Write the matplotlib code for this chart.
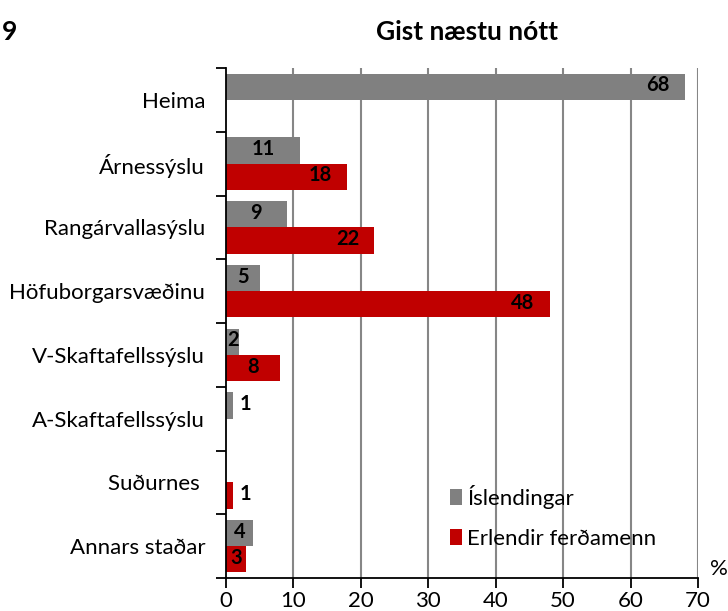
"""Gist næstu nótt — horizontal grouped bar chart."""

import matplotlib

matplotlib.use("Agg")
import matplotlib.pyplot as plt
import numpy as np

plt.rcParams["font.family"] = ["Lato", "DejaVu Sans"]

CATEGORIES = ["Heima", "Árnessýslu", "Rangárvallasýslu", "Höfuborgarsvæðinu",
              "V-Skaftafellssýslu", "A-Skaftafellssýslu", "Suðurnes ",
              "Annars staðar"]
ISLENDINGAR = [68, 11, 9, 5, 2, 1, np.nan, 4]
ERLENDIR = [np.nan, 18, 22, 48, 8, np.nan, 1, 3]
SERIES = ["Íslendingar", "Erlendir ferðamenn"]
XTICKS = [0, 10, 20, 30, 40, 50, 60, 70]

GREY = "#808080"
RED = "#C00000"


def label_bars(ax, ys, vals):
    for y, v in zip(ys, vals):
        if np.isnan(v):
            continue
        kw = dict(va="center", fontsize=14.5, fontweight="bold",
                  textcoords="offset points")
        if v < 2:
            ax.annotate(f"{v:g}", (v, y), xytext=(5, 1), ha="left", **kw)
        elif v <= 11:
            ax.annotate(f"{v:g}", (v / 2, y), xytext=(0, 1), ha="center", **kw)
        else:
            ax.annotate(f"{v:g}", (v, y), xytext=(-11, 1), ha="right", **kw)


fig = plt.figure(figsize=(7.28, 6.11), dpi=100)
ax = fig.add_axes([0.3104, 0.054, 0.6484, 0.8347])

pos = np.arange(len(CATEGORIES))
h = 0.41
ax.barh(pos - h / 2, ISLENDINGAR, height=h, color=GREY, label=SERIES[0], zorder=2)
ax.barh(pos + h / 2, ERLENDIR, height=h, color=RED, label=SERIES[1], zorder=2)
label_bars(ax, pos - h / 2, ISLENDINGAR)
label_bars(ax, pos + h / 2, ERLENDIR)

ax.set_xlim(0, 70)
ax.set_ylim(len(CATEGORIES) - 0.5, -0.5)
ax.set_xticks(XTICKS)
ax.set_xticklabels([str(t) for t in XTICKS], fontsize=16)
ax.set_yticks(np.arange(len(CATEGORIES) + 1) - 0.5, minor=False)
ax.set_yticklabels([])
ax.set_yticks(pos, minor=True)
ax.set_yticklabels(CATEGORIES, minor=True, fontsize=16)
ax.tick_params(axis="y", which="minor", length=0, pad=15)
ax.tick_params(axis="y", which="major", length=7, width=1.3, direction="out")
ax.tick_params(axis="x", length=7, width=1.3, direction="out", pad=2)

for t in XTICKS[1:]:
    ax.axvline(t, color="#868686", lw=1.5, zorder=1)
for side in ["top", "right"]:
    ax.spines[side].set_visible(False)
for side in ["left", "bottom"]:
    ax.spines[side].set_linewidth(1.3)
    ax.spines[side].set_zorder(3)

ax.legend(loc="lower left", bbox_to_anchor=(0.455, 0.04), frameon=False,
          fontsize=16, handlelength=0.55, handleheight=0.75,
          handletextpad=0.25, labelspacing=0.9, borderaxespad=0)

fig.text(0.641, 0.948, "Gist næstu nótt", ha="center", va="center",
         fontsize=19, fontweight="bold")
fig.text(0.002, 0.948, "9", ha="left", va="center", fontsize=19,
         fontweight="bold")
fig.text(0.988, 0.068, "%", ha="center", va="center", fontsize=16)

fig.savefig("out.png", dpi=100)
